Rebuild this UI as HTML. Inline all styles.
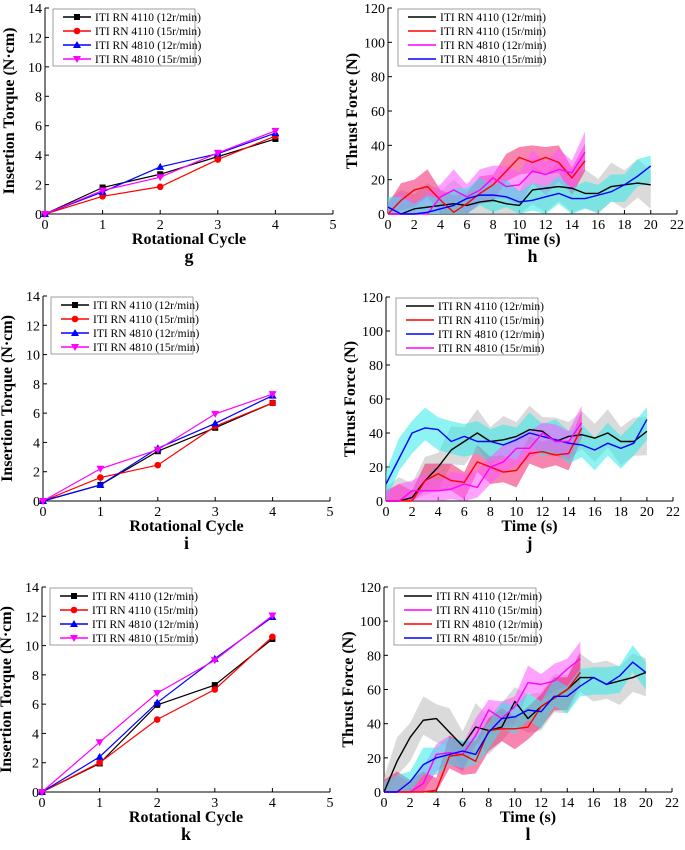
<!DOCTYPE html>
<html><head><meta charset="utf-8"><style>
body{margin:0;background:#fff}
svg, svg text{font-family:"Liberation Serif","DejaVu Serif",serif}
</style></head><body>
<svg id="fig" width="685" height="845" viewBox="0 0 685 845" xmlns="http://www.w3.org/2000/svg" font-family="Liberation Serif, serif"></svg>
<script>
// ---------- data ----------
const cycles=[0,1,2,3,4];
const torqueLabels=["ITI RN 4110 (12r/min)","ITI RN 4110 (15r/min)","ITI RN 4810 (12r/min)","ITI RN 4810 (15r/min)"];
const gBlack=[0,1.8,2.7,3.9,5.1], gRed=[0,1.2,1.85,3.7,5.3], gBlue=[0,1.5,3.2,4.1,5.5], gMag=[0,1.6,2.5,4.15,5.65];
const iBlack=[0,1.1,3.4,5.0,6.7], iRed=[0,1.6,2.45,5.1,6.7], iBlue=[0,1.1,3.6,5.3,7.2], iMag=[0,2.2,3.5,5.95,7.3];
const kBlack=[0,1.95,5.95,7.3,10.45], kRed=[0,2.0,4.95,7.0,10.6], kBlue=[0,2.4,6.1,9.1,11.95], kMag=[0,3.4,6.75,9.0,12.05];
const torqueTicksY=[0,2,4,6,8,10,12,14];
const torqueTicksX=[0,1,2,3,4,5];
const forceTicksY=[0,20,40,60,80,100,120];
const forceTicksX=[0,2,4,6,8,10,12,14,16,18,20,22];
const t20=[0,1,2,3,4,5,6,7,8,9,10,11,12,13,14,15,16,17,18,19,20];
const t15=[0,1,2,3,4,5,6,7,8,9,10,11,12,13,14,15];
const hLabels=["ITI RN 4110 (12r/min)","ITI RN 4110 (15r/min)","ITI RN 4810 (12r/min)","ITI RN 4810 (15r/min)"];
const hBlack=[0,0,3,4,5,6,5,7,8,6,5,14,15,16,15,12,12,16,17,18,17];
const hRed=[0,8,14,16,8,1,6,12,17,25,33,30,33,30,21,31];
const hMag=[0,0,0,0,10,14,10,14,21,16,17,25,23,26,24,36];
const hBlue=[4,0,0,1,3,5,9,11,11,10,7,8,10,12,9,9,11,13,17,22,28];
const jBlack=[0,0,2,12,20,30,35,40,35,36,38,42,41,35,38,39,37,40,35,35,41];
const jRed=[0,0,0,12,16,12,11,23,20,17,18,28,29,27,28,43];
const jBlue=[10,25,40,43,42,35,38,35,35,33,36,40,38,36,34,33,30,34,31,34,48];
const jMag=[0,0,6,6,6,7,10,8,20,23,31,31,40,35,35,46];
const lBlack=[0,18,32,42,43,35,27,38,36,38,53,43,50,55,60,67,67,63,65,67,70];
const lMag=[0,0,0,5,22,23,22,33,48,43,50,64,63,65,72,78];
const lRed=[0,0,0,0,1,21,22,18,36,37,37,38,50,55,60,70];
const lBlue=[0,0,6,16,20,22,24,22,35,43,44,48,47,56,56,62,67,63,68,76,70];
const bandW=[14,10,12,10];

// ---------- helpers ----------
const NS="http://www.w3.org/2000/svg";
const svg=document.getElementById('fig');
const FF='"Liberation Serif", serif';
function el(tag,attrs,parent,txt){const e=document.createElementNS(NS,tag);for(const k in attrs)e.setAttribute(k,attrs[k]);if(txt!==undefined){e.textContent=txt;e.style.fontFamily=FF;}(parent||svg).appendChild(e);return e;}

function axes(g,x0,x1,y0,y1,xt,yt,xmax,ymax,xlab,ylab,letter){
  const sx=v=>x0+(x1-x0)*v/xmax, sy=v=>y0-(y0-y1)*v/ymax;
  const a=el('line',{x1:x0,y1:y0,x2:x1,y2:y0,stroke:'#000','stroke-width':1},g);
  
  
  const b=el('line',{x1:x0,y1:y0,x2:x0,y2:y1,stroke:'#000','stroke-width':1},g);
  
  
  xt.forEach(v=>{el('line',{x1:sx(v),y1:y0,x2:sx(v),y2:y0-4,stroke:'#000'},g);
    const t=el('text',{x:sx(v),y:y0+15,'font-size':14,'text-anchor':'middle'},g,String(v));
    
    });
  yt.forEach(v=>{el('line',{x1:x0,y1:sy(v),x2:x0+4,y2:sy(v),stroke:'#000'},g);
    const t=el('text',{x:x0-3,y:sy(v)+5,'font-size':14,'text-anchor':'end'},g,String(v));
    
    });
  const cx=x0+(x1-x0)*0.5;
  const xl=el('text',{x:cx,y:y0+30,'font-size':16,'font-weight':'bold','text-anchor':'middle'},g,xlab);
  
  
  const cy=(y0+y1)/2;
  const yl=el('text',{x:x0-31,y:cy,'font-size':16,'font-weight':'bold','text-anchor':'middle',transform:`rotate(-90 ${x0-31} ${cy})`},g,ylab);
  
  
  const pl=el('text',{x:cx,y:y0+48,'font-size':18,'font-weight':'bold','text-anchor':'middle'},g,letter);
  
  
  return {sx,sy};
}
function legend(g,x,y,labels,colors,markers){
  const box=el('rect',{x:x,y:y,width:142,height:57,fill:'#fff',stroke:'#888','stroke-width':0.8},g);
  
  
  labels.forEach((lab,i)=>{
    const yy=y+8+i*14;
    el('line',{x1:x+10,y1:yy,x2:x+38,y2:yy,stroke:colors[i],'stroke-width':1.5},g);
    if(markers) marker(g,markers[i],x+24,yy,colors[i]);
    const t=el('text',{x:x+42,y:yy+4,'font-size':11.5},g,lab);
    
    
  });
}
function marker(g,m,x,y,c){
  if(m==='s') el('rect',{x:x-3,y:y-3,width:6,height:6,fill:c},g);
  else if(m==='o') el('circle',{cx:x,cy:y,r:3.3,fill:c},g);
  else if(m==='^') el('polygon',{points:`${x},${y-4} ${x-4},${y+3} ${x+4},${y+3}`,fill:c},g);
  else el('polygon',{points:`${x},${y+4} ${x-4},${y-3} ${x+4},${y-3}`,fill:c},g);
}
function torquePanel(name,x0,x1,y0,y1,series,letter){
  const g=el('g',{});  
  const {sx,sy}=axes(g,x0,x1,y0,y1,torqueTicksX,torqueTicksY,5,14,'Rotational Cycle','Insertion Torque (N·cm)',letter);
  const colors=['#000','#f00','#00f','#f0f'], marks=['s','o','^','v'];
  series.forEach((s,i)=>{
    const p=el('polyline',{points:cycles.map((c,j)=>sx(c)+','+sy(s[j])).join(' '),fill:'none',stroke:colors[i],'stroke-width':1.2},g);
    
    
    cycles.forEach((c,j)=>marker(g,marks[i],sx(c),sy(s[j]),colors[i]));
  });
  legend(g,x0+8,y1+1,torqueLabels,colors,marks);
}
function forcePanel(name,x0,x1,y0,y1,series,lineColors,bandColors,labels,letter){
  const g=el('g',{});  
  const {sx,sy}=axes(g,x0,x1,y0,y1,forceTicksX,forceTicksY,22,120,'Time (s)','Thrust Force (N)',letter);
  const bg=el('g',{},g);
  series.forEach((s,i)=>{
    const ts=s.length===21?t20:t15; const w=bandW[i];
    const up=s.map((v,j)=>sx(ts[j])+','+sy(v+w*(j%2?1:0.6))), lo=s.map((v,j)=>sx(ts[j])+','+sy(Math.max(0,v-w*(j%2?0.6:1)))).reverse();
    const b=el('polygon',{points:up.concat(lo).join(' '),fill:bandColors[i],opacity:0.55},bg);
    
    
  });
  series.forEach((s,i)=>{
    const ts=s.length===21?t20:t15;
    const p=el('polyline',{points:s.map((v,j)=>sx(ts[j])+','+sy(v)).join(' '),fill:'none',stroke:lineColors[i],'stroke-width':1.4,'stroke-linejoin':'round'},g);
    
    
  });
  legend(g,x0+10,y1+1,labels,lineColors,null);
}
// ---------- panels ----------
torquePanel('panel-g',45,333,214,8,[gBlack,gRed,gBlue,gMag],'g');
torquePanel('panel-i',43,330,501,296,[iBlack,iRed,iBlue,iMag],'i');
torquePanel('panel-k',42,330,792,587,[kBlack,kRed,kBlue,kMag],'k');
forcePanel('panel-h',388,677,214,8,[hBlack,hRed,hMag,hBlue],['#000','#f00','#f0f','#00f'],['#bbb','#f02070','#ff55ff','#30eaea'],hLabels,'h');
forcePanel('panel-j',386,673,501,297,[jBlack,jRed,jBlue,jMag],['#000','#f00','#00f','#f0f'],['#bbb','#f02070','#30eaea','#ff55ff'],["ITI RN 4110 (12r/min)","ITI RN 4110 (15r/min)","ITI RN 4810 (12r/min)","ITI RN 4810 (15r/min)"],'j');
forcePanel('panel-l',384,672,792,587,[lBlack,lMag,lRed,lBlue],['#000','#f0f','#f00','#00f'],['#bbb','#ff55ff','#f02070','#30eaea'],["ITI RN 4110 (12r/min)","ITI RN 4110 (15r/min)","ITI RN 4810 (12r/min)","ITI RN 4810 (15r/min)"],'l');
</script>
</body></html>
